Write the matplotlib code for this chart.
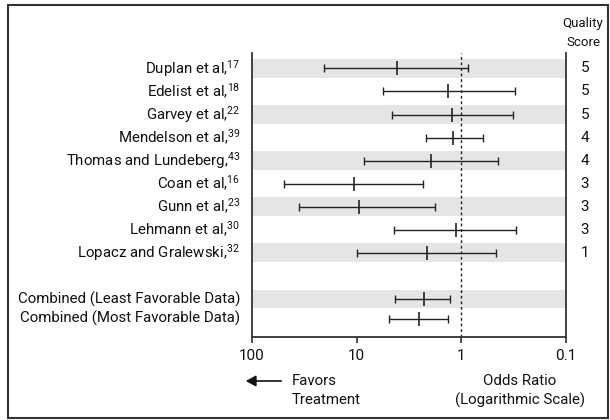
import numpy as np
import matplotlib
matplotlib.use("Agg")
import matplotlib.pyplot as plt
from matplotlib.patches import Rectangle

plt.rcParams['font.family'] = ['Liberation Sans Narrow', 'Roboto', 'DejaVu Sans']
plt.rcParams['mathtext.default'] = 'regular'

# ---- data ----
studies = ["Duplan et al,", "Edelist et al,", "Garvey et al,", "Mendelson et al,",
           "Thomas and Lundeberg,", "Coan et al,", "Gunn et al,", "Lehmann et al,",
           "Lopacz and Gralewski,"]
refs = ["17", "18", "22", "39", "43", "16", "23", "30", "32"]
study_or = [4.15, 1.33, 1.23, 1.19, 1.94, 10.6, 9.4, 1.13, 2.14]
study_lo = [0.87, 0.31, 0.32, 0.62, 0.45, 2.31, 1.79, 0.30, 0.47]
study_hi = [20.4, 5.65, 4.57, 2.19, 8.5, 49.2, 35.3, 4.43, 9.9]
quality = ["5", "5", "5", "4", "4", "3", "3", "3", "1"]

combined = ["Combined (Least Favorable Data)", "Combined (Most Favorable Data)"]
comb_or = [2.28, 2.56]
comb_lo = [1.28, 1.33]
comb_hi = [4.28, 4.92]

xticks = [100, 10, 1, 0.1]
xticklabels = ["100", "10", "1", "0.1"]

W, H = 610, 420
fig = plt.figure(figsize=(W / 100, H / 100), dpi=100)

def fx(px):
    return px / W

def fy(py):
    return 1 - py / H

ax = fig.add_axes([fx(252), fy(337), fx(566) - fx(252), fy(53) - fy(337)])
ax.set_xscale('log')
ax.set_xlim(100, 0.1)
ax.set_ylim(11.65, -0.668)

# positions
ypos_st = np.arange(len(studies), dtype=float)
ypos_cb = np.array([10.0, 10.86])

# shaded bands
band_h = 0.82
for i in range(0, len(studies), 2):
    ax.axhspan(ypos_st[i] - band_h / 2, ypos_st[i] + band_h / 2, color='#e5e5e5', lw=0, zorder=0)
ax.axhspan(ypos_cb[0] - band_h / 2, ypos_cb[0] + band_h / 2, color='#e5e5e5', lw=0, zorder=0)

ax.axvline(1, color='#222222', ls=(0, (2, 2)), lw=1.0, zorder=1)

lc = '#222222'
def draw(y, o, lo, hi, col):
    o = np.asarray(o); lo = np.asarray(lo); hi = np.asarray(hi)
    ax.errorbar(o, y, xerr=[o - lo, hi - o], fmt='none', ecolor=col, elinewidth=1.0,
                capsize=2.6, capthick=1.0, zorder=3)
    ax.plot(o, y, ls='none', marker='|', markersize=9.5, markeredgewidth=1.2, color=col, zorder=4)

draw(ypos_st, study_or, study_lo, study_hi, lc)
draw(ypos_cb, comb_or, comb_lo, comb_hi, lc)

# spines / ticks
ax.spines['top'].set_visible(False)
for s in ['left', 'right', 'bottom']:
    ax.spines[s].set_color('#333333')
    ax.spines[s].set_linewidth(1.3)
ax.set_yticks([])
ax.set_xticks(xticks)
ax.set_xticklabels(xticklabels)
ax.xaxis.set_minor_locator(matplotlib.ticker.NullLocator())
ax.tick_params(axis='x', direction='out', length=4, width=1.2, color='#333333',
               labelsize=11, pad=5, labelcolor='#111111')

# row labels
fs = 10.8
for y, name, r, q in zip(ypos_st, studies, refs, quality):
    ax.text(-0.038, y, name + "$^{" + r + "}$", transform=ax.get_yaxis_transform(),
            ha='right', va='center', fontsize=fs, color='#111111')
    ax.text(1.0607, y, q, transform=ax.get_yaxis_transform(), ha='center', va='center',
            fontsize=11, color='#111111')
for y, name in zip(ypos_cb, combined):
    ax.text(-0.038, y, name, transform=ax.get_yaxis_transform(),
            ha='right', va='center', fontsize=fs, color='#111111')

fig.text(fx(583), fy(23), "Quality", ha='center', va='center', fontsize=9.5, color='#111111')
fig.text(fx(583), fy(42), "Score", ha='center', va='center', fontsize=9.5, color='#111111')

# bottom annotations
fig.patches.append(matplotlib.patches.FancyArrowPatch(
    (fx(284), fy(381)), (fx(243), fy(381)), transform=fig.transFigure,
    arrowstyle='-|>,head_length=4,head_width=2.2', color='#111111', lw=1.2, mutation_scale=1.5))
fig.text(fx(292), fy(381), "Favors", ha='left', va='center', fontsize=10.8, color='#111111')
fig.text(fx(292), fy(400), "Treatment", ha='left', va='center', fontsize=10.8, color='#111111')
fig.text(fx(520), fy(381), "Odds Ratio", ha='center', va='center', fontsize=10.8, color='#111111')
fig.text(fx(520), fy(400), "(Logarithmic Scale)", ha='center', va='center', fontsize=10.8, color='#111111')

# outer frame
fig.patches.append(Rectangle((fx(8), fy(418)), fx(608) - fx(8), fy(5) - fy(418),
                             transform=fig.transFigure, fill=False, ec='#333333', lw=1.5))

fig.savefig("out.png", dpi=100)
